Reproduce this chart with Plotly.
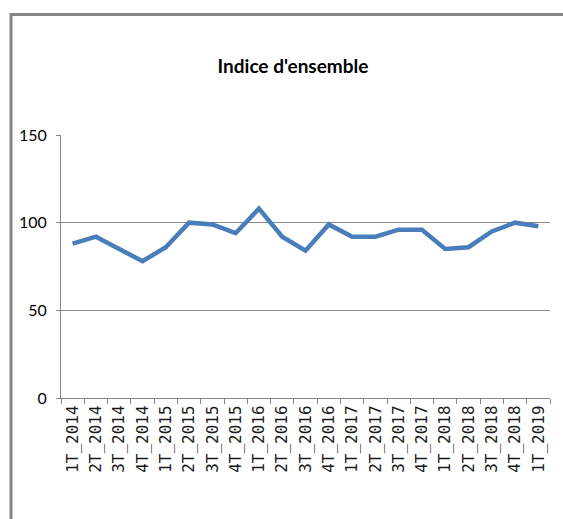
import plotly.graph_objects as go

categories = ["1T_2014", "2T_2014", "3T_2014", "4T_2014",
              "1T_2015", "2T_2015", "3T_2015", "4T_2015",
              "1T_2016", "2T_2016", "3T_2016", "4T_2016",
              "1T_2017", "2T_2017", "3T_2017", "4T_2017",
              "1T_2018", "2T_2018", "3T_2018", "4T_2018",
              "1T_2019"]
values = [88, 92, 85, 78, 86, 100, 99, 94, 108, 92, 84, 99,
          92, 92, 96, 96, 85, 86, 95, 100, 98]
y_ticks = [0, 50, 100, 150]
title_text = "Indice d'ensemble"

W, H = 563, 519
L, R, T, B = 61, 13, 135, 121
pw, ph = W - L - R, H - T - B

calib = "Lato, Carlito, Open Sans, sans-serif"

fig = go.Figure()
fig.add_trace(go.Scatter(
    x=categories, y=values, mode="lines",
    line=dict(color="#4a7ebb", width=4.5),
    hoverinfo="x+y", showlegend=False,
))

# outer chart frame (only top and left edges visible in the crop)
def px_x(px):
    return (px - L) / pw

def px_y(py):
    return (H - B - py) / ph

frame = dict(color="#858585", width=3)
fig.add_shape(type="line", xref="paper", yref="paper",
              x0=px_x(10), x1=px_x(W), y0=px_y(14.5), y1=px_y(14.5),
              line=frame, layer="below")
fig.add_shape(type="line", xref="paper", yref="paper",
              x0=px_x(11), x1=px_x(11), y0=px_y(13), y1=px_y(H),
              line=frame, layer="below")
# keep the area right of the plot, under the top frame edge, blank
fig.add_shape(type="rect", xref="paper", yref="paper",
              x0=px_x(551), x1=px_x(W), y0=px_y(70), y1=px_y(16.5),
              line=dict(width=0), fillcolor="white", layer="above")

fig.update_layout(
    width=W, height=H,
    margin=dict(l=L, r=R, t=T, b=B),
    paper_bgcolor="white", plot_bgcolor="white",
    title=dict(text=title_text, x=293 / W, xref="container", xanchor="center",
               y=1 - 66 / H, yref="container", yanchor="middle",
               font=dict(family=calib, size=19, color="#000000", weight="bold")),
    xaxis=dict(
        type="category", tickangle=-90, tickson="boundaries",
        ticks="outside", ticklen=5, tickcolor="#868686",
        showline=True, linecolor="#868686", linewidth=1,
        showgrid=False, zeroline=False,
        tickfont=dict(family="DejaVu Sans Mono, monospace", size=16, color="#1a1a1a"),
        range=[-0.5, len(categories) - 0.5],
    ),
    yaxis=dict(
        range=[0, 150], tickvals=y_ticks,
        ticks="outside", ticklen=4, tickcolor="#868686",
        showline=True, linecolor="#868686", linewidth=1,
        showgrid=True, gridcolor="#8a8a8a", gridwidth=1,
        zeroline=False, ticklabelstandoff=6,
        tickfont=dict(family=calib, size=16, color="#000000"),
    ),
)

fig.write_html("out.html", config={"displayModeBar": False},
               post_script="document.body.style.margin='0';document.body.style.overflow='hidden';")
